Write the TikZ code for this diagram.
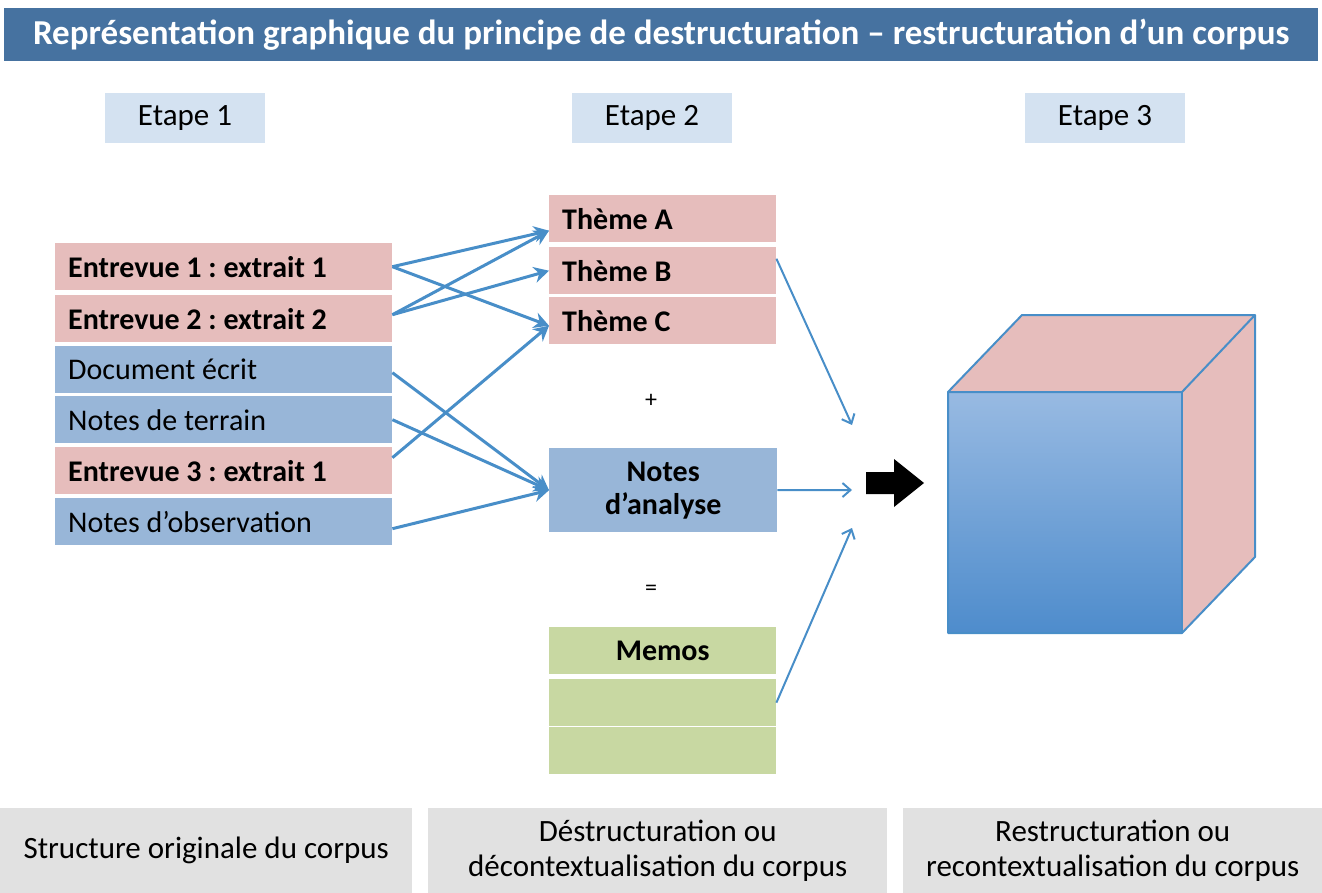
\documentclass[tikz,border=0pt]{standalone}
\usepackage{fontspec}
\setmainfont{Carlito}
\usetikzlibrary{arrows.meta,calc}
\definecolor{titleblue}{RGB}{70,114,160}
\definecolor{etapec}{RGB}{212,226,241}
\definecolor{pinkc}{RGB}{230,189,188}
\definecolor{bluec}{RGB}{152,182,216}
\definecolor{greenc}{RGB}{200,216,162}
\definecolor{linkc}{RGB}{72,142,200}
\definecolor{greyc}{RGB}{225,225,225}
\definecolor{cubetop}{RGB}{152,186,226}
\definecolor{cubebot}{RGB}{78,140,204}
\newcommand\fsBig{\fontsize{35}{40}\selectfont}
\newcommand\fsMid{\fontsize{30}{33}\selectfont}
\newcommand\fsSm{\fontsize{31}{35}\selectfont}
\newcommand\fsOp{\fontsize{24}{28}\selectfont}
\newcommand\lefttxt[2]{\makebox[#1][l]{#2}}
\begin{document}
\frenchspacing
\begin{tikzpicture}[x=1pt,y=-1pt,
  lbox/.style={anchor=north west, minimum width=337pt, minimum height=47pt, inner ysep=0pt,
     inner xsep=13pt, font=\fsMid},
  mbox/.style={anchor=north west, minimum width=227pt, minimum height=47pt,
     inner xsep=13pt, inner ysep=0pt, font=\fsMid\bfseries},
  etape/.style={fill=etapec, minimum width=160pt, minimum height=50pt, font=\fsSm},
  foot/.style={fill=greyc, anchor=north west, minimum height=85pt, align=center, font=\fsSm},
  link/.style={draw=linkc, line width=3pt, -{Stealth[length=15pt,width=16pt]}},
  thin/.style={draw=linkc, line width=2pt, -{Straight Barb[length=8pt,width=14pt,line width=2pt]}}
]
\useasboundingbox (0,0) rectangle (1322,893);
% title
\node[fill=titleblue, anchor=north west, minimum width=1314pt, minimum height=53pt,
  text=white, font=\fsBig\bfseries, inner sep=0pt] (title) at (4,8)
  {Représentation graphique du principe de destructuration – restructuration d’un corpus};
% etapes
\node[etape] (et1) at (185,118) {Etape 1};
\node[etape] (et2) at (652,118) {Etape 2};
\node[etape] (et3) at (1105,118) {Etape 3};
% left column
\node[lbox, fill=pinkc, font=\fsMid\bfseries] (e1) at (55,243) {\lefttxt{311pt}{Entrevue 1 : extrait 1}};
\node[lbox, fill=pinkc, font=\fsMid\bfseries] (e2) at (55,295) {\lefttxt{311pt}{Entrevue 2 : extrait 2}};
\node[lbox, fill=bluec] (doc) at (55,346) {\lefttxt{311pt}{Document écrit}};
\node[lbox, fill=bluec] (ter) at (55,396) {\lefttxt{311pt}{Notes de terrain}};
\node[lbox, fill=pinkc, font=\fsMid\bfseries] (e3) at (55,447) {\lefttxt{311pt}{Entrevue 3 : extrait 1}};
\node[lbox, fill=bluec] (obs) at (55,498) {\lefttxt{311pt}{Notes d’observation}};
% middle column
\node[mbox, fill=pinkc] (tA) at (549,195) {\lefttxt{201pt}{Thème A}};
\node[mbox, fill=pinkc] (tB) at (549,247) {\lefttxt{201pt}{Thème B}};
\node[mbox, fill=pinkc] (tC) at (549,297) {\lefttxt{201pt}{Thème C}};
\node[font=\fsOp] (plus) at (651,401) {+};
\node[fill=bluec, anchor=north west, minimum width=228pt, minimum height=84pt,
  align=center, font=\fsMid\bfseries, inner sep=0pt] (na) at (549,448) {Notes\\d’analyse};
\node[font=\fsOp] (eq) at (651,590) {=};
\node[mbox, fill=greenc] (m1) at (549,627) {Memos};
\node[mbox, fill=greenc] (m2) at (549,679) {};
\node[mbox, fill=greenc] (m3) at (549,727) {};
% links left -> middle
\draw[link] (e1.east) -- ($(tA.west)+(0,12)$);
\draw[link] (e1.east) -- ($(tC.west)+(0,5)$);
\draw[link] ($(e2.east)+(0,-4)$) -- ($(tA.west)+(0,12)$);
\draw[link] ($(e2.east)+(0,-4)$) -- (tB.west);
\draw[link] ($(doc.east)+(0,3)$) -- (na.west);
\draw[link] (ter.east) -- (na.west);
\draw[link] ($(e3.east)+(0,-13)$) -- ($(tC.west)+(0,5)$);
\draw[link] ($(obs.east)+(0,7)$) -- (na.west);
% links middle -> join
\coordinate (j1) at (852,425);
\coordinate (j2) at (852,490);
\coordinate (j3) at (852,528);
\draw[thin] ($(tB.east)+(0,-12)$) -- (j1);
\draw[thin] (na.east) -- (j2);
\draw[thin] (m2.east) -- (j3);
% black arrow
\fill[black] (866,472) -- (894,472) -- (894,459) -- (924,483) -- (894,507) -- (894,494) -- (866,494) -- cycle;
% cube
\shade[top color=cubetop, bottom color=cubebot] (948,392) rectangle (1182,633);
\fill[pinkc] (948,392) -- (1022,315) -- (1255,315) -- (1182,392) -- cycle;
\fill[pinkc] (1182,392) -- (1255,315) -- (1255,557) -- (1182,633) -- cycle;
\draw[linkc, line width=2pt, line join=round] (948,392) -- (1022,315) -- (1255,315) -- (1255,557) -- (1182,633) -- (948,633) -- cycle;
\draw[linkc, line width=2pt, line join=round] (948,392) -- (1182,392) -- (1255,315);
\draw[linkc, line width=2pt] (1182,392) -- (1182,633);
% footer
\node[foot, minimum width=412pt] (f1) at (0,808) {Structure originale du corpus};
\node[foot, minimum width=459pt] (f2) at (428,808) {Déstructuration ou\\décontextualisation du corpus};
\node[foot, minimum width=419pt] (f3) at (903,808) {Restructuration ou\\recontextualisation du corpus};
\end{tikzpicture}
\end{document}
